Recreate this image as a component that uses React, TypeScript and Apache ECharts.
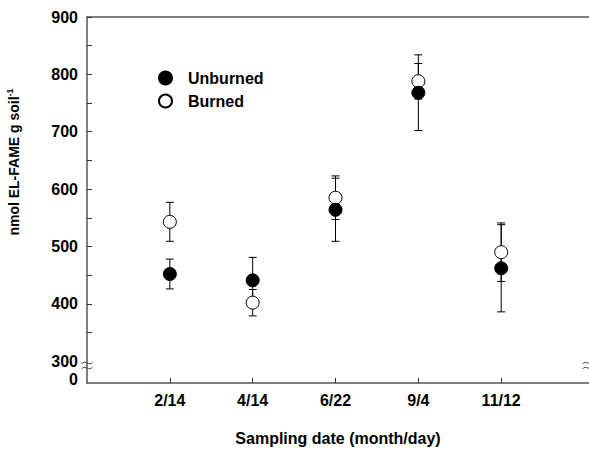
import React, { useEffect, useRef } from "react";
import * as echarts from "echarts";

const categories = ["2/14", "4/14", "6/22", "9/4", "11/12"];
const unburnedMean = [452, 441, 564, 768, 462];
const unburnedErr = [26, 40, 55, 66, 76];
const burnedMean = [543, 402, 585, 788, 490];
const burnedErr = [34, 23, 38, 31, 51];

const yTickValues = [300, 400, 500, 600, 700, 800, 900];
const yMinorTickValues = [350, 400, 450, 500, 550, 600, 650, 700, 750, 800, 850, 900];
const yBreakBase = 262; // axis position labelled "0" below the break
const xPositions = [1, 2, 3, 4, 5];

const FONT = "'Liberation Sans', Arial, sans-serif";

export default function App() {
  const ref = useRef<HTMLDivElement>(null);

  useEffect(() => {
    if (!ref.current) return;
    const chart = echarts.init(ref.current, undefined, { renderer: "svg" });

    const errData = (means: number[], errs: number[]) =>
      means.map((m, i) => [xPositions[i], m - errs[i], m + errs[i]]);

    const errSeries = (name: string, means: number[], errs: number[]) => ({
      type: "custom",
      name: name + "-err",
      z: 2,
      silent: true,
      data: errData(means, errs),
      encode: { x: 0, y: [1, 2] },
      renderItem: (params: any, api: any) => {
        const x = api.value(0);
        const lo = api.coord([x, api.value(1)]);
        const hi = api.coord([x, api.value(2)]);
        const w = 4;
        const style = { stroke: "#000", lineWidth: 1 };
        return {
          type: "group",
          children: [
            { type: "line", shape: { x1: lo[0], y1: lo[1], x2: hi[0], y2: hi[1] }, style },
            { type: "line", shape: { x1: lo[0] - w, y1: lo[1], x2: lo[0] + w, y2: lo[1] }, style },
            { type: "line", shape: { x1: hi[0] - w, y1: hi[1], x2: hi[0] + w, y2: hi[1] }, style },
          ],
        };
      },
    });

    const axisLineStyle = { color: "#555", width: 1.5 };

    const breakCurve = (x: number, y: number) => ({
      type: "bezierCurve",
      shape: {
        x1: x - 5.5, y1: y + 1,
        cpx1: x - 2, cpy1: y - 4,
        cpx2: x + 2, cpy2: y + 4,
        x2: x + 5.5, y2: y - 1,
      },
      style: { stroke: "#444", lineWidth: 1, fill: null },
      z: 10,
    });

    const labelFont = { fontFamily: FONT, fontWeight: "bold" as const, fontSize: 16, color: "#000" };

    chart.setOption({
      animation: false,
      backgroundColor: "#fff",
      textStyle: { fontFamily: FONT },
      grid: { left: 87, top: 17, width: 504, height: 366, containLabel: false },
      legend: {
        orient: "vertical",
        left: 153,
        top: 65,
        itemWidth: 13,
        itemHeight: 13,
        itemGap: 7,
        data: ["Unburned", "Burned"],
        textStyle: { ...labelFont, padding: [0, 0, 0, 11] },
        selectedMode: false,
      },
      xAxis: [
        {
          type: "value",
          min: 0,
          max: 6.06,
          name: "Sampling date (month/day)",
          nameLocation: "middle",
          nameGap: 47,
          nameTextStyle: labelFont,
          axisLine: { show: true, lineStyle: axisLineStyle },
          axisTick: { show: true, inside: true, length: 5, customValues: xPositions, lineStyle: { color: "#333" } },
          axisLabel: {
            customValues: xPositions,
            margin: 9,
            ...labelFont,
            formatter: (v: number) => categories[Math.round(v) - 1] ?? "",
          },
          splitLine: { show: false },
        },
        {
          type: "value",
          position: "top",
          min: 0,
          max: 6.06,
          axisLine: { show: true, onZero: false, lineStyle: axisLineStyle },
          axisTick: { show: false },
          axisLabel: { show: false },
          splitLine: { show: false },
        },
      ],
      yAxis: [
        {
          type: "value",
          min: yBreakBase,
          max: 900,
          axisLine: { show: true, lineStyle: axisLineStyle },
          axisTick: { show: true, inside: true, length: 5, customValues: yMinorTickValues, lineStyle: { color: "#333" } },
          axisLabel: {
            customValues: yTickValues,
            showMinLabel: true,
            showMaxLabel: true,
            margin: 9,
            ...labelFont,
            formatter: (v: number) => String(v),
          },
          splitLine: { show: false },
        },
        {
          type: "value",
          position: "left",
          offset: 0,
          min: yBreakBase,
          max: 900,
          axisLine: { show: false },
          axisTick: { show: false },
          axisLabel: {
            customValues: [yBreakBase + 6],
            showMinLabel: true,
            margin: 9,
            ...labelFont,
            formatter: () => "0",
          },
          splitLine: { show: false },
        },
      ],
      series: [
        errSeries("Unburned", unburnedMean, unburnedErr),
        errSeries("Burned", burnedMean, burnedErr),
        {
          type: "scatter",
          name: "Burned",
          z: 3,
          symbol: "circle",
          symbolSize: 13,
          itemStyle: { color: "#fff", borderColor: "#000", borderWidth: 1, opacity: 1 },
          data: burnedMean.map((m, i) => [xPositions[i], m]),
        },
        {
          type: "scatter",
          name: "Unburned",
          z: 4,
          symbol: "circle",
          symbolSize: 13,
          itemStyle: { color: "#000", borderColor: "#000", borderWidth: 1, opacity: 1 },
          data: unburnedMean.map((m, i) => [xPositions[i], m]),
        },
      ],
      graphic: [
        {
          type: "text",
          x: 14,
          y: 162,
          rotation: Math.PI / 2,
          style: {
            text: "{a|nmol EL-FAME g soil}{s|-1}",
            align: "center",
            verticalAlign: "middle",
            fill: "#000",
            rich: {
              a: { fontFamily: FONT, fontWeight: "bold", fontSize: 14, fill: "#000", lineHeight: 18 },
              s: { fontFamily: FONT, fontWeight: "bold", fontSize: 9, fill: "#000", verticalAlign: "top", padding: [0, 0, 6, 0] },
            },
          },
        },
        breakCurve(87, 363),
        breakCurve(87, 368),
        breakCurve(588, 363),
        breakCurve(588, 368),
      ],
    });

    return () => chart.dispose();
  }, []);

  return (
    <div
      ref={ref}
      style={{ position: "fixed", left: 0, top: 0, width: 589, height: 451, background: "#fff" }}
    />
  );
}
